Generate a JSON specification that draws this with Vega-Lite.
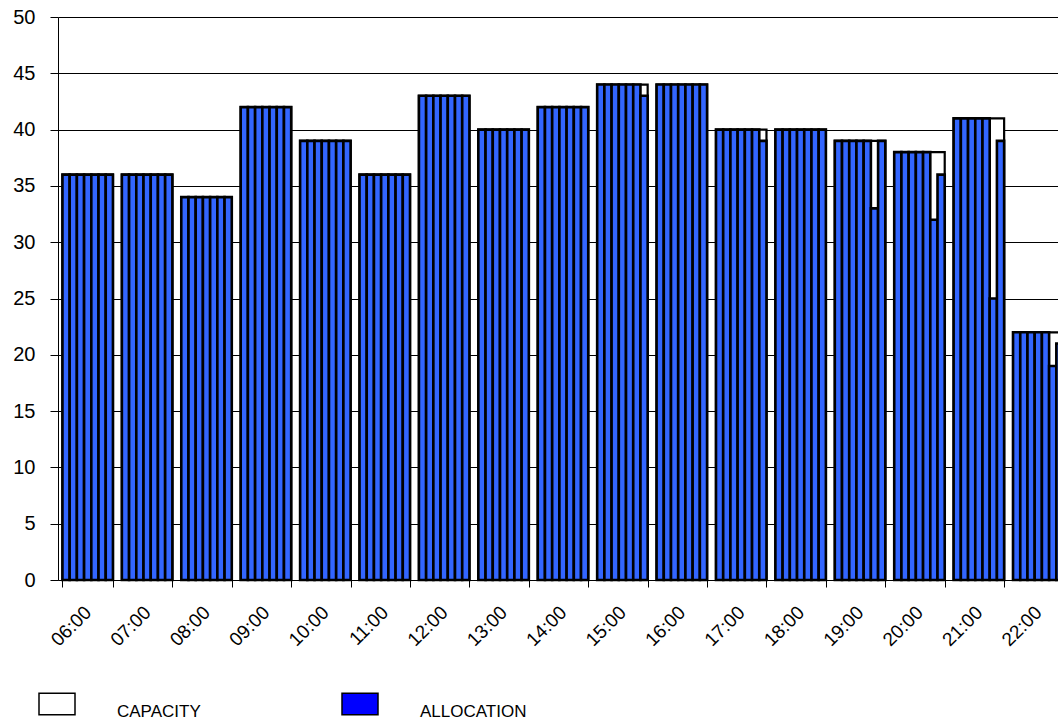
{
  "$schema": "https://vega.github.io/schema/vega-lite/v6.json",
  "width": 1010,
  "height": 563,
  "autosize": {"type": "none"},
  "padding": {"left": 58, "top": 17, "right": -10, "bottom": 145},
  "background": "white",
  "config": {
    "view": {"stroke": null},
    "font": "Liberation Sans",
    "axis": {"labelFont": "Liberation Sans", "labelColor": "black", "domainColor": "black", "tickColor": "black", "domainWidth": 1, "tickWidth": 1},
    "legend": {"labelFont": "Liberation Sans"}
  },
  "datasets": {
    "capacity": [
      {"hour": "06:00", "capacity": 36}, {"hour": "07:00", "capacity": 36}, {"hour": "08:00", "capacity": 34},
      {"hour": "09:00", "capacity": 42}, {"hour": "10:00", "capacity": 39}, {"hour": "11:00", "capacity": 36},
      {"hour": "12:00", "capacity": 43}, {"hour": "13:00", "capacity": 40}, {"hour": "14:00", "capacity": 42},
      {"hour": "15:00", "capacity": 44}, {"hour": "16:00", "capacity": 44}, {"hour": "17:00", "capacity": 40},
      {"hour": "18:00", "capacity": 40}, {"hour": "19:00", "capacity": 39}, {"hour": "20:00", "capacity": 38},
      {"hour": "21:00", "capacity": 41}, {"hour": "22:00", "capacity": 22}
    ],
    "allocation": [
      {"hour": "06:00", "slot": 1, "allocation": 36}, {"hour": "06:00", "slot": 2, "allocation": 36}, {"hour": "06:00", "slot": 3, "allocation": 36}, {"hour": "06:00", "slot": 4, "allocation": 36}, {"hour": "06:00", "slot": 5, "allocation": 36}, {"hour": "06:00", "slot": 6, "allocation": 36}, {"hour": "06:00", "slot": 7, "allocation": 36},
      {"hour": "07:00", "slot": 1, "allocation": 36}, {"hour": "07:00", "slot": 2, "allocation": 36}, {"hour": "07:00", "slot": 3, "allocation": 36}, {"hour": "07:00", "slot": 4, "allocation": 36}, {"hour": "07:00", "slot": 5, "allocation": 36}, {"hour": "07:00", "slot": 6, "allocation": 36}, {"hour": "07:00", "slot": 7, "allocation": 36},
      {"hour": "08:00", "slot": 1, "allocation": 34}, {"hour": "08:00", "slot": 2, "allocation": 34}, {"hour": "08:00", "slot": 3, "allocation": 34}, {"hour": "08:00", "slot": 4, "allocation": 34}, {"hour": "08:00", "slot": 5, "allocation": 34}, {"hour": "08:00", "slot": 6, "allocation": 34}, {"hour": "08:00", "slot": 7, "allocation": 34},
      {"hour": "09:00", "slot": 1, "allocation": 42}, {"hour": "09:00", "slot": 2, "allocation": 42}, {"hour": "09:00", "slot": 3, "allocation": 42}, {"hour": "09:00", "slot": 4, "allocation": 42}, {"hour": "09:00", "slot": 5, "allocation": 42}, {"hour": "09:00", "slot": 6, "allocation": 42}, {"hour": "09:00", "slot": 7, "allocation": 42},
      {"hour": "10:00", "slot": 1, "allocation": 39}, {"hour": "10:00", "slot": 2, "allocation": 39}, {"hour": "10:00", "slot": 3, "allocation": 39}, {"hour": "10:00", "slot": 4, "allocation": 39}, {"hour": "10:00", "slot": 5, "allocation": 39}, {"hour": "10:00", "slot": 6, "allocation": 39}, {"hour": "10:00", "slot": 7, "allocation": 39},
      {"hour": "11:00", "slot": 1, "allocation": 36}, {"hour": "11:00", "slot": 2, "allocation": 36}, {"hour": "11:00", "slot": 3, "allocation": 36}, {"hour": "11:00", "slot": 4, "allocation": 36}, {"hour": "11:00", "slot": 5, "allocation": 36}, {"hour": "11:00", "slot": 6, "allocation": 36}, {"hour": "11:00", "slot": 7, "allocation": 36},
      {"hour": "12:00", "slot": 1, "allocation": 43}, {"hour": "12:00", "slot": 2, "allocation": 43}, {"hour": "12:00", "slot": 3, "allocation": 43}, {"hour": "12:00", "slot": 4, "allocation": 43}, {"hour": "12:00", "slot": 5, "allocation": 43}, {"hour": "12:00", "slot": 6, "allocation": 43}, {"hour": "12:00", "slot": 7, "allocation": 43},
      {"hour": "13:00", "slot": 1, "allocation": 40}, {"hour": "13:00", "slot": 2, "allocation": 40}, {"hour": "13:00", "slot": 3, "allocation": 40}, {"hour": "13:00", "slot": 4, "allocation": 40}, {"hour": "13:00", "slot": 5, "allocation": 40}, {"hour": "13:00", "slot": 6, "allocation": 40}, {"hour": "13:00", "slot": 7, "allocation": 40},
      {"hour": "14:00", "slot": 1, "allocation": 42}, {"hour": "14:00", "slot": 2, "allocation": 42}, {"hour": "14:00", "slot": 3, "allocation": 42}, {"hour": "14:00", "slot": 4, "allocation": 42}, {"hour": "14:00", "slot": 5, "allocation": 42}, {"hour": "14:00", "slot": 6, "allocation": 42}, {"hour": "14:00", "slot": 7, "allocation": 42},
      {"hour": "15:00", "slot": 1, "allocation": 44}, {"hour": "15:00", "slot": 2, "allocation": 44}, {"hour": "15:00", "slot": 3, "allocation": 44}, {"hour": "15:00", "slot": 4, "allocation": 44}, {"hour": "15:00", "slot": 5, "allocation": 44}, {"hour": "15:00", "slot": 6, "allocation": 44}, {"hour": "15:00", "slot": 7, "allocation": 43},
      {"hour": "16:00", "slot": 1, "allocation": 44}, {"hour": "16:00", "slot": 2, "allocation": 44}, {"hour": "16:00", "slot": 3, "allocation": 44}, {"hour": "16:00", "slot": 4, "allocation": 44}, {"hour": "16:00", "slot": 5, "allocation": 44}, {"hour": "16:00", "slot": 6, "allocation": 44}, {"hour": "16:00", "slot": 7, "allocation": 44},
      {"hour": "17:00", "slot": 1, "allocation": 40}, {"hour": "17:00", "slot": 2, "allocation": 40}, {"hour": "17:00", "slot": 3, "allocation": 40}, {"hour": "17:00", "slot": 4, "allocation": 40}, {"hour": "17:00", "slot": 5, "allocation": 40}, {"hour": "17:00", "slot": 6, "allocation": 40}, {"hour": "17:00", "slot": 7, "allocation": 39},
      {"hour": "18:00", "slot": 1, "allocation": 40}, {"hour": "18:00", "slot": 2, "allocation": 40}, {"hour": "18:00", "slot": 3, "allocation": 40}, {"hour": "18:00", "slot": 4, "allocation": 40}, {"hour": "18:00", "slot": 5, "allocation": 40}, {"hour": "18:00", "slot": 6, "allocation": 40}, {"hour": "18:00", "slot": 7, "allocation": 40},
      {"hour": "19:00", "slot": 1, "allocation": 39}, {"hour": "19:00", "slot": 2, "allocation": 39}, {"hour": "19:00", "slot": 3, "allocation": 39}, {"hour": "19:00", "slot": 4, "allocation": 39}, {"hour": "19:00", "slot": 5, "allocation": 39}, {"hour": "19:00", "slot": 6, "allocation": 33}, {"hour": "19:00", "slot": 7, "allocation": 39},
      {"hour": "20:00", "slot": 1, "allocation": 38}, {"hour": "20:00", "slot": 2, "allocation": 38}, {"hour": "20:00", "slot": 3, "allocation": 38}, {"hour": "20:00", "slot": 4, "allocation": 38}, {"hour": "20:00", "slot": 5, "allocation": 38}, {"hour": "20:00", "slot": 6, "allocation": 32}, {"hour": "20:00", "slot": 7, "allocation": 36},
      {"hour": "21:00", "slot": 1, "allocation": 41}, {"hour": "21:00", "slot": 2, "allocation": 41}, {"hour": "21:00", "slot": 3, "allocation": 41}, {"hour": "21:00", "slot": 4, "allocation": 41}, {"hour": "21:00", "slot": 5, "allocation": 41}, {"hour": "21:00", "slot": 6, "allocation": 25}, {"hour": "21:00", "slot": 7, "allocation": 39},
      {"hour": "22:00", "slot": 1, "allocation": 22}, {"hour": "22:00", "slot": 2, "allocation": 22}, {"hour": "22:00", "slot": 3, "allocation": 22}, {"hour": "22:00", "slot": 4, "allocation": 22}, {"hour": "22:00", "slot": 5, "allocation": 22}, {"hour": "22:00", "slot": 6, "allocation": 19}, {"hour": "22:00", "slot": 7, "allocation": 21}
    ]
  },
  "layer": [
    {
      "data": {"name": "capacity"},
      "mark": {"type": "bar", "stroke": "black", "strokeWidth": 2.2, "opacity": 1},
      "encoding": {
        "x": {
          "field": "hour", "type": "nominal",
          "scale": {"paddingInner": 0.15, "paddingOuter": 0.075},
          "axis": {"title": null, "labelAngle": -45, "labelAlign": "right", "labelBaseline": "middle", "labelFontSize": 19, "tickBand": "extent", "tickSize": 7, "labelPadding": 22}
        },
        "y": {
          "field": "capacity", "type": "quantitative",
          "scale": {"domain": [0, 50], "nice": false},
          "axis": {"title": null, "values": [0, 5, 10, 15, 20, 25, 30, 35, 40, 45, 50], "grid": true, "gridColor": "black", "gridWidth": 1, "gridOpacity": 1, "tickSize": 8, "labelFontSize": 20, "labelPadding": 15}
        },
        "color": {
          "datum": "CAPACITY", "type": "nominal",
          "scale": {"domain": ["CAPACITY", "ALLOCATION", "ALLOCATION BARS"], "range": ["#ffffff", "#0000ff", "#3366ff"]},
          "legend": {
            "title": null, "orient": "none", "legendX": -20, "legendY": 668, "direction": "horizontal",
            "values": ["CAPACITY", "ALLOCATION"],
            "symbolType": "M-1,-0.6H1V0.6H-1Z", "symbolSize": 1296, "symbolStrokeColor": "black", "symbolStrokeWidth": 1.5,
            "labelFontSize": 17, "labelColor": "black", "labelOffset": 41, "labelBaseline": "top", "columnPadding": 138
          }
        }
      }
    },
    {
      "data": {"name": "allocation"},
      "mark": {"type": "bar", "stroke": "black", "strokeWidth": 2.6, "opacity": 1},
      "encoding": {
        "x": {"field": "hour", "type": "nominal"},
        "xOffset": {"field": "slot", "type": "ordinal", "scale": {"paddingInner": 0, "paddingOuter": 0}},
        "y": {"field": "allocation", "type": "quantitative"},
        "color": {"datum": "ALLOCATION BARS", "type": "nominal"}
      }
    }
  ]
}
